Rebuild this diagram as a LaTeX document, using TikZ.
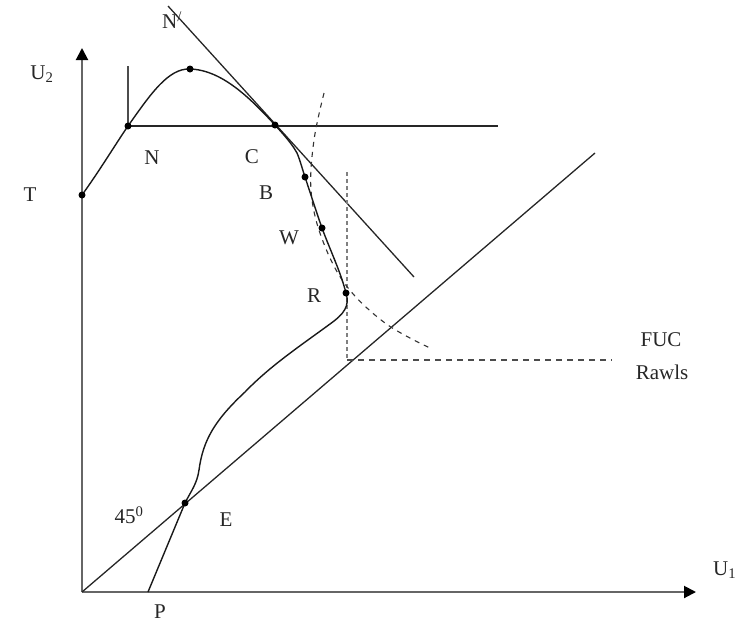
\documentclass[tikz,border=0pt]{standalone}
\usepackage{fontspec}
\setmainfont{Liberation Serif}
\usetikzlibrary{arrows.meta}
\begin{document}
\begin{tikzpicture}[x=1pt,y=-1pt,
  axis/.style={line width=2pt,draw=black!60,-{Triangle[length=12pt,width=12pt,fill=black,color=black]}},
  curve/.style={line width=1.4pt,black!90},
  thin/.style={line width=1.3pt,black!85},
  dot/.style={circle,fill=black,inner sep=0pt,minimum size=7pt},
  lbl/.style={font=\fontsize{21}{24}\selectfont,inner sep=0pt,text=black!85},
  fuc/.style={line width=1.1pt,black!80,dash pattern=on 5pt off 5pt},
  rawlsv/.style={line width=2pt,black!50,dash pattern=on 4pt off 3pt},
  rawlsh/.style={line width=1.3pt,black!70,dash pattern=on 6pt off 5pt}]
\useasboundingbox (0,0) rectangle (741,627);
% coordinates
\coordinate (O) at (82,592);
\coordinate (Ytop) at (82,48);
\coordinate (Xend) at (696,592);
\coordinate (T) at (82,195);
\coordinate (N) at (128,126);
\coordinate (Ntop) at (128,66);
\coordinate (Np) at (190,69);
\coordinate (C) at (275,125);
\coordinate (Hend) at (498,126);
\coordinate (Tan1) at (168,6);
\coordinate (Tan2) at (414,277);
\coordinate (B) at (305,177);
\coordinate (W) at (322,228);
\coordinate (R) at (346,293);
\coordinate (E) at (185,503);
\coordinate (P) at (148,592);
\coordinate (Dend) at (595,153);
\coordinate (Rtop) at (347,172);
\coordinate (Rk) at (347,360);
\coordinate (Rend) at (612,360);
% axes
\draw[axis] (O) -- (Ytop);
\draw[axis] (O) -- (Xend);
% lines
\draw[thin] (N) -- (Hend);
\draw[line width=2pt,black!70] (N) -- (Ntop);
\draw[thin] (Tan1) -- (Tan2);
\draw[thin] (O) -- (Dend);
% Rawls
\draw[rawlsv] (Rtop) -- (Rk);
\draw[rawlsh] (Rk) -- (Rend);
% FUC dashed curve
\draw[fuc] plot[smooth,tension=0.6] coordinates {(324,93) (314,140) (311,190) (321,236) (345,284) (385,323) (430,348)};
% utility possibility curve
\draw[curve] (T) .. controls (100,170) and (115,145) .. (N)
  .. controls (150,95) and (168,68) .. (Np)
  .. controls (222,70) and (250,98) .. (C)
  .. controls (285,136) and (292,144) .. (297,153)
  .. controls (300,160) and (302,168) .. (B)
  .. controls (311,195) and (316,211) .. (W)
  .. controls (330,250) and (340,270) .. (R)
  .. controls (350,306) and (344,314) .. (330,324)
  .. controls (300,346) and (270,366) .. (245,392)
  .. controls (215,420) and (203,440) .. (199,470)
  .. controls (197,484) and (191,491) .. (E) -- (P);
% dots
\foreach \p in {T,N,Np,C,B,W,R,E} \node[dot] at (\p) {};
% labels
\node[lbl,anchor=west] (lU1) at (713,570) {U\textsubscript{1}};
\node[lbl] (lU2) at (42,74) {U\textsubscript{2}};
\node[lbl] (lT) at (30,195) {T};
\node[lbl] (lN) at (152,158) {N};
\node[lbl] (lNp) at (172,20) {N\textsuperscript{/}};
\node[lbl] (lC) at (252,157) {C};
\node[lbl] (lB) at (266,193) {B};
\node[lbl] (lW) at (289,238) {W};
\node[lbl] (lR) at (314,296) {R};
\node[lbl] (lE) at (226,520) {E};
\node[lbl] (l45) at (129,515) {45\textsuperscript{0}};
\node[lbl] (lP) at (160,612) {P};
\node[lbl] (lFUC) at (661,340) {FUC};
\node[lbl] (lRawls) at (662,372) {Rawls};
\end{tikzpicture}
\end{document}
